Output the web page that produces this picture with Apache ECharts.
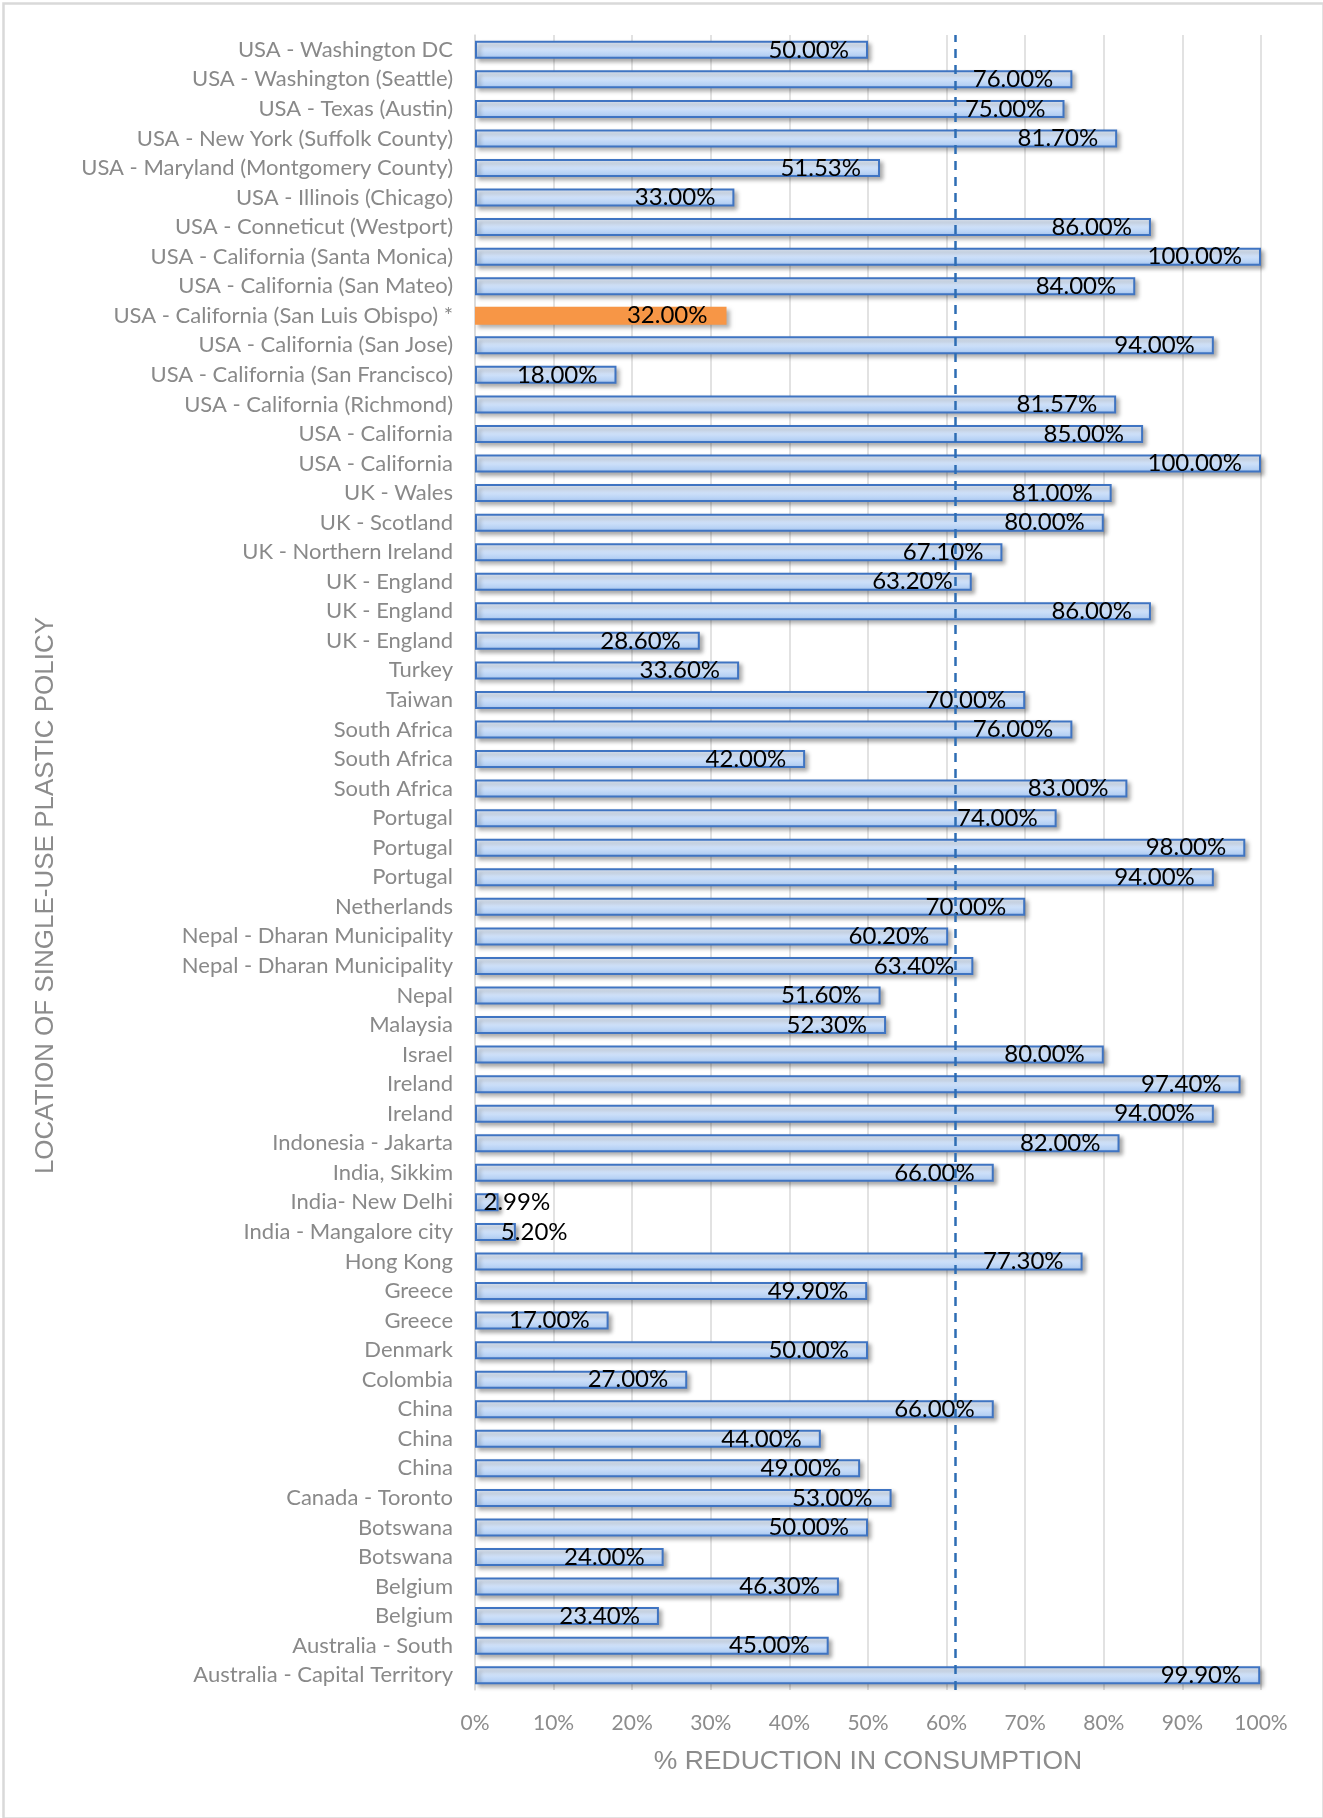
<!DOCTYPE html>
<html>
<head>
<meta charset="utf-8">
<script src="https://cdn.jsdelivr.net/npm/echarts@6/dist/echarts.min.js"></script>
<style>
html,body{margin:0;padding:0;background:#fff;}
#chart{width:1323px;height:1818px;}
</style>
</head>
<body>
<div id="chart"></div>
<script>
// Categories listed bottom-to-top (ECharts category axis runs upward)
const categories = [
  'Australia - Capital Territory','Australia - South','Belgium','Belgium','Botswana','Botswana',
  'Canada - Toronto','China','China','China','Colombia','Denmark','Greece','Greece','Hong Kong',
  'India - Mangalore city','India- New Delhi','India, Sikkim','Indonesia - Jakarta','Ireland','Ireland',
  'Israel','Malaysia','Nepal','Nepal - Dharan Municipality','Nepal - Dharan Municipality','Netherlands',
  'Portugal','Portugal','Portugal','South Africa','South Africa','South Africa','Taiwan','Turkey',
  'UK - England','UK - England','UK - England','UK - Northern Ireland','UK - Scotland','UK - Wales',
  'USA - California','USA - California','USA - California (Richmond)','USA - California (San Francisco)',
  'USA - California (San Jose)','USA - California (San Luis Obispo) *','USA - California (San Mateo)',
  'USA - California (Santa Monica)','USA - Conneticut (Westport)','USA - Illinois (Chicago)',
  'USA - Maryland (Montgomery County)','USA - New York (Suffolk County)','USA - Texas (Austin)',
  'USA - Washington (Seattle)','USA - Washington DC'
];
const reductionPct = [
  99.90, 45.00, 23.40, 46.30, 24.00, 50.00,
  53.00, 49.00, 44.00, 66.00, 27.00, 50.00, 17.00, 49.90, 77.30,
  5.20, 2.99, 66.00, 82.00, 94.00, 97.40,
  80.00, 52.30, 51.60, 63.40, 60.20, 70.00,
  94.00, 98.00, 74.00, 83.00, 42.00, 76.00, 70.00, 33.60,
  28.60, 86.00, 63.20, 67.10, 80.00, 81.00,
  100.00, 85.00, 81.57, 18.00,
  94.00, 32.00, 84.00,
  100.00, 86.00, 33.00,
  51.53, 81.70, 75.00,
  76.00, 50.00
];
const highlightIndex = 46; // USA - California (San Luis Obispo) *
const referenceLine = 61.1;  // dashed vertical line
const xTicks = [0, 10, 20, 30, 40, 50, 60, 70, 80, 90, 100];

const labelFont = 'Lato, "Open Sans", sans-serif';
const blueGradient = new echarts.graphic.LinearGradient(0, 0, 0, 1, [
  {offset: 0, color: '#eaf2fd'},
  {offset: 0.45, color: '#d2e3fa'},
  {offset: 1, color: '#a8c8f2'}
]);

const seriesData = reductionPct.map((v, i) => {
  const item = {value: v};
  if (i === highlightIndex) {
    item.itemStyle = {color: '#f79646', borderWidth: 0};
  }
  if (v < 10) {
    item.label = {align: 'left', distance: 15};
  }
  return item;
});

const chart = echarts.init(document.getElementById('chart'), null, {renderer: 'canvas'});
chart.setOption({
  backgroundColor: '#ffffff',
  animation: false,
  graphic: [{
    type: 'rect', left: 1, top: 1, z: -1,
    shape: {width: 1320, height: 1815},
    style: {fill: 'none', stroke: '#d9d9d9', lineWidth: 2.5}
  }],
  grid: {left: 475, right: 62, top: 35, bottom: 128, containLabel: false},
  xAxis: {
    type: 'value', min: xTicks[0], max: xTicks[xTicks.length - 1], interval: 10,
    name: '% REDUCTION IN CONSUMPTION',
    nameLocation: 'middle', nameGap: 58,
    nameTextStyle: {fontFamily: '"Liberation Sans", Arial, sans-serif', fontSize: 26.5, color: '#8c8c8c'},
    axisLine: {show: false}, axisTick: {show: false},
    axisLabel: {formatter: v => v + '%', fontFamily: labelFont, fontSize: 21, color: '#8c8c8c', margin: 23},
    splitLine: {show: true, lineStyle: {color: '#d9d9d9', width: 1.5}}
  },
  yAxis: {
    type: 'category', data: categories,
    name: 'LOCATION OF SINGLE-USE PLASTIC POLICY',
    nameLocation: 'middle', nameGap: 416, nameRotate: 90,
    nameTextStyle: {fontFamily: '"Liberation Sans", Arial, sans-serif', fontSize: 26, color: '#8c8c8c', padding: [0, 66, 0, 0]},
    axisLine: {show: true, lineStyle: {color: '#d9d9d9', width: 1.5}},
    axisTick: {show: false},
    axisLabel: {interval: 0, fontFamily: labelFont, fontSize: 22, color: '#898989', margin: 22},
    splitLine: {show: false}
  },
  series: [{
    type: 'bar',
    data: seriesData,
    barWidth: 18,
    itemStyle: {
      color: blueGradient, borderColor: '#3f74c2', borderWidth: 2,
      shadowColor: 'rgba(0,0,0,0.3)', shadowBlur: 4, shadowOffsetX: 3, shadowOffsetY: 3
    },
    label: {
      show: true, position: 'insideRight', distance: 19,
      formatter: p => p.value.toFixed(2) + '%',
      fontFamily: labelFont, fontSize: 24, color: '#000000'
    },
    markLine: {
      silent: true, symbol: ['none', 'none'],
      label: {show: false},
      lineStyle: {color: '#2e6db4', type: [9, 7], width: 2.5},
      data: [{xAxis: referenceLine}]
    }
  }]
});
</script>
</body>
</html>
